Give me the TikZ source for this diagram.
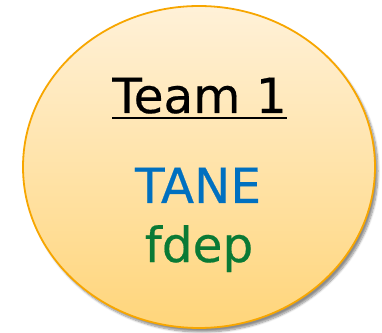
\documentclass[tikz,border=0pt]{standalone}
\usepackage{fontspec}
\setmainfont{DejaVu Sans}
\newfontfamily\lblfont{DejaVu Sans}[FakeBold=0.4]
\usetikzlibrary{shapes.geometric,shadows.blur}
\definecolor{rimorange}{HTML}{F7A600}
\definecolor{filltop}{HTML}{FFF1D8}
\definecolor{fillbot}{HTML}{FFD57A}
\definecolor{taneblue}{HTML}{0070C0}
\definecolor{fdepgreen}{HTML}{0A7A35}
\tikzset{
  bubble/.style={ellipse, draw=rimorange, line width=1.8pt, top color=filltop, bottom color=fillbot,
    minimum width=352pt, minimum height=322pt, inner sep=0pt,
    blur shadow={shadow xshift=3pt, shadow yshift=-4pt, shadow blur steps=8, shadow opacity=45}},
  lbl/.style={inner sep=0pt, font=\lblfont\fontsize{48.5pt}{52pt}\selectfont, anchor=base}
}
\begin{document}
\begin{tikzpicture}[x=1pt,y=1pt]
\useasboundingbox (0,0) rectangle (382,332);
\node[bubble] (circ) at (199,165) {};
\node[lbl] (team) at (199.5,219) {Team 1};
\draw[line width=2.2pt] ([yshift=-5pt]team.base west) coordinate (ul1) -- ([yshift=-5pt]team.base east) coordinate (ul2);
\node[lbl, text=taneblue] (tane) at (198,129) {TANE};
\node[lbl, text=fdepgreen] (fdep) at (199,70) {fdep};
\end{tikzpicture}
\end{document}
